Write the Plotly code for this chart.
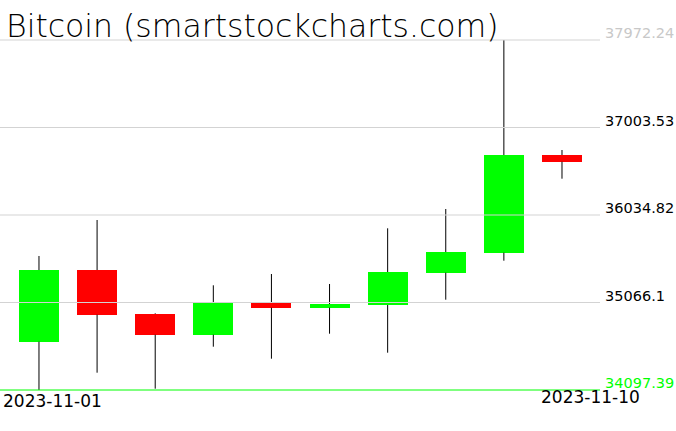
import plotly.graph_objects as go

# ---- data ----
dates = ["2023-11-01", "2023-11-02", "2023-11-03", "2023-11-04", "2023-11-05",
         "2023-11-06", "2023-11-07", "2023-11-08", "2023-11-09", "2023-11-10"]
opens = [34632.1, 35425.9, 34938.8, 34709.6, 35060.6, 35008.6, 35038.4, 35396.0, 35617.4, 36699.1]
highs = [35581.0, 35979.5, 34946.5, 35256.5, 35381.6, 35271.0, 35887.6, 36101.2, 37972.24, 36754.4]
lows = [34097.39, 34289.0, 34111.8, 34576.8, 34443.9, 34720.7, 34510.4, 35097.1, 35528.9, 36436.7]
closes = [35425.9, 34931.1, 34709.6, 35060.6, 35008.6, 35049.5, 35403.8, 35625.2, 36699.1, 36624.9]

y_tick_vals = [34097.39, 35066.10, 36034.82, 37003.53, 37972.24]
y_tick_labels = ["34097.39", "35066.1", "36034.82", "37003.53", "37972.24"]
x_labels = ["2023-11-01", "2023-11-10"]
title_text = "Bitcoin (smartstockcharts.com)"

UP = "#00ff00"
DOWN = "#ff0000"
GRID = "#d3d3d3"

fig = go.Figure()

# bodies
base = [min(o, c) for o, c in zip(opens, closes)]
height = [abs(c - o) for o, c in zip(opens, closes)]
colors = [UP if c >= o else DOWN for o, c in zip(opens, closes)]
fig.add_trace(go.Bar(x=dates, y=height, base=base, marker=dict(color=colors, line=dict(width=0)),
                     width=0.688 * 86400000, hoverinfo="skip", showlegend=False))

# wicks (upper and lower segments)
wx, wy = [], []
for d, o, h, l, c in zip(dates, opens, highs, lows, closes):
    top, bot = max(o, c), min(o, c)
    if h > top:
        wx += [d, d, None]
        wy += [h, top, None]
    if l < bot:
        wx += [d, d, None]
        wy += [bot, l, None]
fig.add_trace(go.Scatter(x=wx, y=wy, mode="lines", line=dict(color="black", width=1),
                         hoverinfo="skip", showlegend=False))

# gridlines drawn above bodies
shapes = []
for i, v in enumerate(y_tick_vals):
    shapes.append(dict(type="line", xref="x domain", x0=0, x1=1, yref="y", y0=v, y1=v,
                       line=dict(color=UP if i == 0 else GRID, width=1), layer="above"))

tick_colors = [UP, "black", "black", "black", "#c8c8c8"]
ticktext = [f"<span style='color:{col}'>{t}</span>" for t, col in zip(y_tick_labels, tick_colors)]

annotations = [
    dict(text=title_text, xref="paper", yref="paper", x=0, y=1, xanchor="left", yanchor="top",
         xshift=4, yshift=-6, showarrow=False,
         font=dict(family="DejaVu Sans", weight=200, size=31.5, color="black")),
    dict(text=x_labels[0], xref="x", yref="paper", x=dates[0], y=0, xanchor="left", yanchor="top",
         xshift=-38, yshift=11, showarrow=False,
         font=dict(family="DejaVu Sans", size=17, color="black")),
    dict(text=x_labels[1], xref="x", yref="paper", x=dates[-1], y=0, xanchor="left", yanchor="top",
         xshift=-23, yshift=15, showarrow=False,
         font=dict(family="DejaVu Sans", size=17, color="black")),
]

fig.update_layout(
    width=676, height=431,
    margin=dict(l=0, r=76, t=0, b=31),
    paper_bgcolor="white", plot_bgcolor="white",
    shapes=shapes, annotations=annotations,
    bargap=0,
    xaxis=dict(type="date", range=["2023-10-31 07:54", "2023-11-10 15:42"],
               showgrid=False, showticklabels=False, zeroline=False, showline=False,
               rangeslider=dict(visible=False)),
    yaxis=dict(range=[34097.39 - 10 * 11.071, 34097.39 + 400 * 11.071 - 10 * 11.071],
               side="right", tickvals=y_tick_vals, ticktext=ticktext, showgrid=False,
               zeroline=False, showline=False, ticks="", ticklabelstandoff=4,
               ticklabelshift=-7, automargin=False,
               tickfont=dict(family="DejaVu Sans", size=14.5, color="black")),
)

fig.write_html("out.html", config={"displayModeBar": False},
               post_script="document.body.style.margin='0';")
